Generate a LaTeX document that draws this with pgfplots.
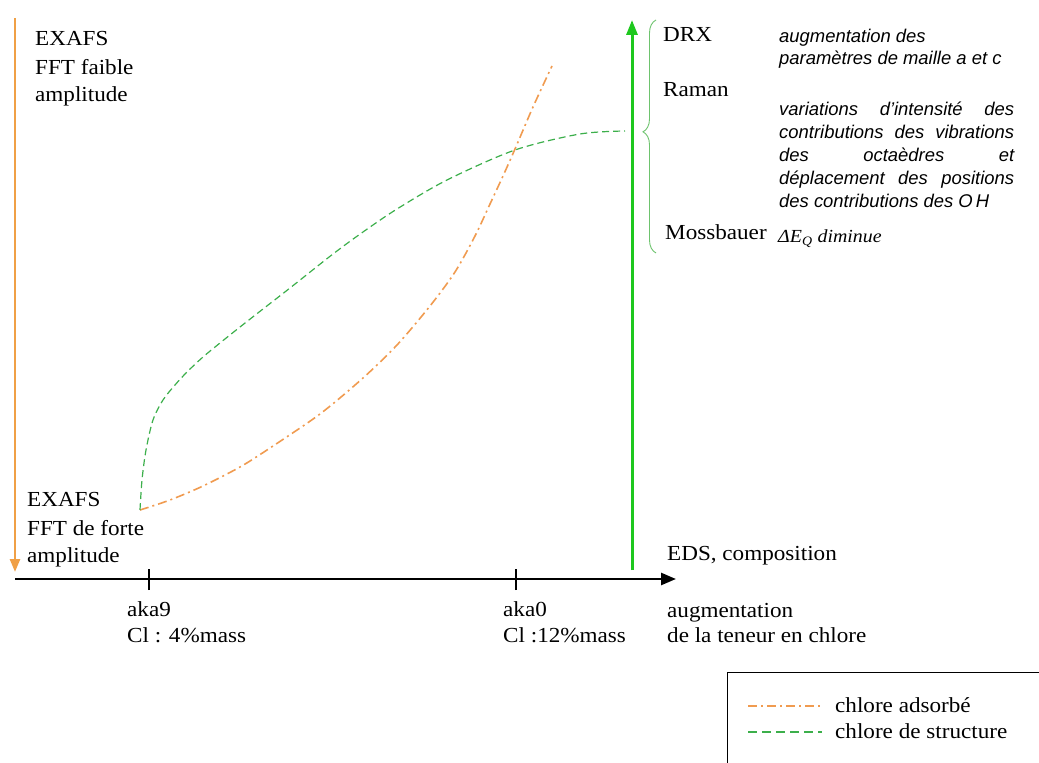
\documentclass[border=0pt]{standalone}
\usepackage{pgfplots}
\pgfplotsset{compat=1.18}
\usepackage{fontspec}
\setmainfont{Liberation Serif}[FakeStretch=1.08]
\setsansfont{Liberation Sans}
\usetikzlibrary{arrows.meta,decorations.pathreplacing}
\definecolor{orA}{RGB}{240,160,70}
\definecolor{orC}{RGB}{240,155,80}
\definecolor{grA}{RGB}{30,200,30}
\definecolor{grC}{RGB}{60,175,75}
\definecolor{grB}{RGB}{110,195,110}
\newcommand{\tm}{\fontsize{21.5}{26}\selectfont}
\newcommand{\itx}{\sffamily\itshape\fontsize{18.5}{22}\selectfont}
\begin{document}
\begin{tikzpicture}
\begin{axis}[
  at={(0,0)}, anchor=south west,
  scale only axis, width=1039bp, height=762bp,
  xmin=0, xmax=1039, ymin=0, ymax=762,
  hide axis, clip=false,
]
\coordinate (BL) at (axis cs:0,0);
\coordinate (TR) at (axis cs:1039,762);
% curves
\addplot[color=orC, line width=1.6bp, smooth, tension=0.5,
  dash pattern=on 9bp off 4bp on 2bp off 4bp] coordinates {
  (140,252) (170,262) (203,276) (240,295) (270,314) (320,348) (363,384)
  (397,417) (430,456) (455,490) (475,526) (490,558) (503,586) (515,613)
  (533,655) (552,696)};
\addplot[color=grC, line width=1.2bp, smooth, tension=0.5,
  dash pattern=on 7bp off 4bp] coordinates {
  (140,252) (142,282) (146,312) (153,342) (163,362) (175,377) (187,390)
  (203,405) (220,419) (240,435) (263,453) (290,474) (333,508) (363,530)
  (397,553) (447,582) (515,612) (580,628) (625,631)};
% arrows
\draw[orA, line width=2.5bp, -{Triangle[length=13bp,width=10bp]}] (axis cs:15,744) -- (axis cs:15,190);
\draw[grA, line width=3bp, -{Triangle[length=15bp,width=11bp]}] (axis cs:632,192) -- (axis cs:632,742);
\draw[black, line width=2.5bp, -{Triangle[length=15bp,width=12bp]}] (axis cs:15,183) -- (axis cs:676,183);
\draw[black, line width=2.5bp] (axis cs:149,172) -- (axis cs:149,193);
\draw[black, line width=2.5bp] (axis cs:516,172) -- (axis cs:516,193);
% brace
\draw[grB, line width=0.9bp, decorate, decoration={brace, amplitude=13bp, aspect=0.52}]
  (axis cs:656,509) -- (axis cs:656,742);
% texts left
\node[anchor=base west, inner sep=0] at (axis cs:35,716) {\tm EXAFS};
\node[anchor=base west, inner sep=0] at (axis cs:35,687) {\tm FFT faible};
\node[anchor=base west, inner sep=0] at (axis cs:35,660) {\tm amplitude};
\node[anchor=base west, inner sep=0] at (axis cs:27,256) {\tm EXAFS};
\node[anchor=base west, inner sep=0] at (axis cs:27,227) {\tm FFT de forte};
\node[anchor=base west, inner sep=0] at (axis cs:27,200) {\tm amplitude};
\node[anchor=base west, inner sep=0] at (axis cs:127,146) {\tm aka9};
\node[anchor=base west, inner sep=0] at (axis cs:127,120) {\tm Cl : 4\%mass};
\node[anchor=base west, inner sep=0] at (axis cs:503,146) {\tm aka0};
\node[anchor=base west, inner sep=0] at (axis cs:503,120) {\tm Cl :12\%mass};
\node[anchor=base west, inner sep=0] at (axis cs:667,202) {\tm EDS, composition};
\node[anchor=base west, inner sep=0] at (axis cs:667,145) {\tm augmentation};
\node[anchor=base west, inner sep=0] at (axis cs:667,120) {\tm de la teneur en chlore};
% texts right
\node[anchor=base west, inner sep=0] at (axis cs:663,720) {\tm DRX};
\node[anchor=base west, inner sep=0] at (axis cs:663,665) {\tm Raman};
\node[anchor=base west, inner sep=0] at (axis cs:665,522) {\tm Mossbauer};
\node[anchor=base west, inner sep=0] at (axis cs:779,719) {\itx augmentation des};
\node[anchor=base west, inner sep=0] at (axis cs:779,697) {\itx paramètres de maille a et c};
\node[anchor=base west, inner sep=0] at (axis cs:779,646) {\itx \makebox[235bp][s]{variations d’intensité des}};
\node[anchor=base west, inner sep=0] at (axis cs:779,623) {\itx \makebox[235bp][s]{contributions des vibrations}};
\node[anchor=base west, inner sep=0] at (axis cs:779,600) {\itx \makebox[235bp][s]{des octaèdres et}};
\node[anchor=base west, inner sep=0] at (axis cs:779,577) {\itx \makebox[235bp][s]{déplacement des positions}};
\node[anchor=base west, inner sep=0] at (axis cs:779,554) {\itx des contributions des O\,H};
\node[anchor=base west, inner sep=0] at (axis cs:778,519) {\fontsize{18.5}{22}\selectfont\itshape ΔE\textsubscript{Q} diminue};
% legend
\draw[black, line width=1bp] (axis cs:727,-10) -- (axis cs:727,90) -- (axis cs:1050,90);
\draw[orC, line width=1.6bp, dash pattern=on 9bp off 4bp on 2bp off 4bp] (axis cs:748,56) -- (axis cs:822,56);
\draw[grC, line width=1.4bp, dash pattern=on 9bp off 5bp] (axis cs:748,30) -- (axis cs:822,30);
\node[anchor=base west, inner sep=0] at (axis cs:835,50) {\tm chlore adsorbé};
\node[anchor=base west, inner sep=0] at (axis cs:835,24) {\tm chlore de structure};
\end{axis}
\pgfresetboundingbox
\path[use as bounding box] (BL) rectangle (TR);
\end{tikzpicture}
\end{document}
